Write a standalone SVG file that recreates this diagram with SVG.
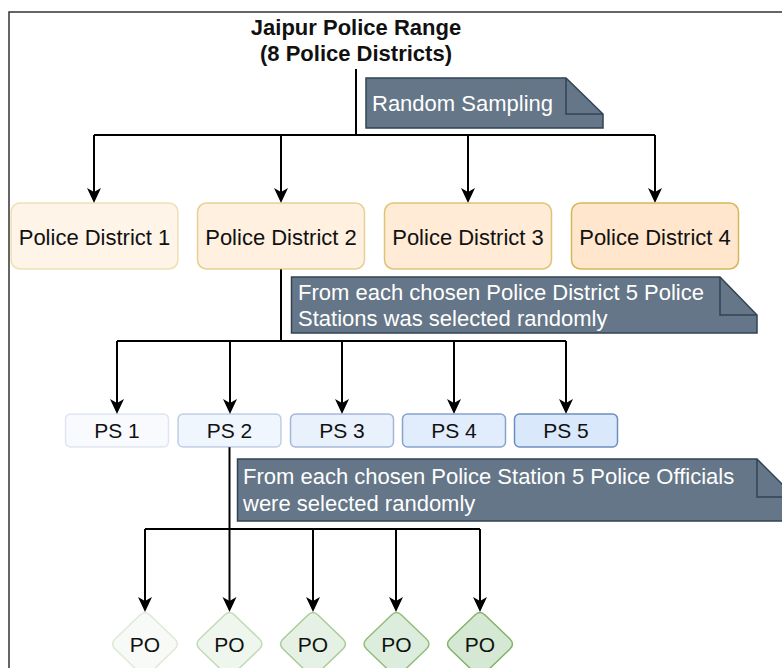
<svg xmlns="http://www.w3.org/2000/svg" width="782" height="668" viewBox="0 0 782 668">
<style>
.t{font-family:"Liberation Sans",Arial,Helvetica,sans-serif;font-size:22px;fill:#111}
.title{font-weight:bold;font-size:22px;text-anchor:middle}
.c{text-anchor:middle}
.nt{font-family:"Liberation Sans",Arial,Helvetica,sans-serif;font-size:22px;fill:#ffffff}
.note{fill:#647687;stroke:#314354;stroke-width:1.5}
.fold{fill:none;stroke:#314354;stroke-width:1.5}
.pd{fill:#ffe6cc;stroke:#d6b656;stroke-width:1.5}
.ps{fill:#dae8fc;stroke:#6c8ebf;stroke-width:1.5}
.po{fill:#d5e8d4;stroke:#82b366;stroke-width:1.5}
.ln{fill:none;stroke:#000;stroke-width:2}
.ar{fill:none;stroke:#000;stroke-width:2;marker-end:url(#arr)}
</style>
<defs>
<marker id="arr" markerUnits="userSpaceOnUse" markerWidth="16" markerHeight="16" viewBox="0 0 16 16" refX="11" refY="7" orient="auto">
<path d="M0,0 L15,7 L0,14 L4,7 Z" fill="#000"/>
</marker>
<path id="dia" d="M-5,-29 Q0,-34 5,-29 L30,-5 Q35,0 30,5 L5,29 Q0,34 -5,29 L-30,5 Q-35,0 -30,-5 Z"/>
</defs>
<rect width="782" height="668" fill="#ffffff"/>
<rect x="9" y="12" width="800" height="700" fill="none" stroke="#333" stroke-width="1.5"/>

<g id="title">
<text class="t title" x="356" y="35">Jaipur Police Range</text>
<text class="t title" x="356" y="61">(8 Police Districts)</text>
</g>

<g id="connectors">
<path class="ln" d="M356,69 V135"/>
<path class="ln" d="M94,135 H655"/>
<path class="ar" d="M94,135 V199"/>
<path class="ar" d="M281,135 V199"/>
<path class="ar" d="M468,135 V199"/>
<path class="ar" d="M655,135 V199"/>
<path class="ln" d="M281,269 V341"/>
<path class="ln" d="M117,341 H566"/>
<path class="ar" d="M117,341 V410"/>
<path class="ar" d="M230,341 V410"/>
<path class="ar" d="M342,341 V410"/>
<path class="ar" d="M454,341 V410"/>
<path class="ar" d="M566,341 V410"/>
<path class="ln" d="M145,529 H480"/>
<path class="ar" d="M229.5,447 V608"/>
<path class="ar" d="M145,529 V608"/>
<path class="ar" d="M313,529 V608"/>
<path class="ar" d="M396,529 V608"/>
<path class="ar" d="M480,529 V608"/>
</g>

<g id="note1">
<path class="note" d="M366,78 H566 L603,114 V128 H366 Z"/>
<path class="fold" d="M566,78 V114 H603"/>
<text class="nt" x="372" y="111">Random Sampling</text>
</g>

<g id="pd1"><rect class="pd" x="11" y="203" width="167" height="66" rx="9" fill-opacity="0.45" stroke-opacity="0.4"/><text class="t c" x="94.5" y="245">Police District 1</text></g>
<g id="pd2"><rect class="pd" x="197.5" y="203" width="167" height="66" rx="9" fill-opacity="0.62" stroke-opacity="0.6"/><text class="t c" x="281" y="245">Police District 2</text></g>
<g id="pd3"><rect class="pd" x="384.5" y="203" width="167" height="66" rx="9" fill-opacity="0.8" stroke-opacity="0.8"/><text class="t c" x="468" y="245">Police District 3</text></g>
<g id="pd4"><rect class="pd" x="571.5" y="203" width="167" height="66" rx="9"/><text class="t c" x="655" y="245">Police District 4</text></g>

<g id="note2">
<path class="note" d="M291.5,277 H720 L757,315 V333 H291.5 Z"/>
<path class="fold" d="M720,277 V315 H757"/>
<text class="nt" x="298" y="300">From each chosen Police District 5 Police</text>
<text class="nt" x="298" y="326">Stations was selected randomly</text>
</g>

<g id="ps1"><rect class="ps" x="65.5" y="414" width="103" height="33" rx="5" fill-opacity="0.2" stroke-opacity="0.2"/><text class="t c" x="117" y="438" style="font-size:21px">PS 1</text></g>
<g id="ps2"><rect class="ps" x="178" y="414" width="103" height="33" rx="5" fill-opacity="0.4" stroke-opacity="0.4"/><text class="t c" x="229.5" y="438" style="font-size:21px">PS 2</text></g>
<g id="ps3"><rect class="ps" x="290.5" y="414" width="103" height="33" rx="5" fill-opacity="0.6" stroke-opacity="0.6"/><text class="t c" x="342" y="438" style="font-size:21px">PS 3</text></g>
<g id="ps4"><rect class="ps" x="402.5" y="414" width="103" height="33" rx="5" fill-opacity="0.8" stroke-opacity="0.8"/><text class="t c" x="454" y="438" style="font-size:21px">PS 4</text></g>
<g id="ps5"><rect class="ps" x="514.5" y="414" width="103" height="33" rx="5"/><text class="t c" x="566" y="438" style="font-size:21px">PS 5</text></g>

<g id="note3">
<path class="note" d="M237.5,459 H757 L795,497 V521 H237.5 Z"/>
<path class="fold" d="M757,459 V497 H795"/>
<text class="nt" x="243" y="484">From each chosen Police Station 5 Police Officials</text>
<text class="nt" x="243" y="511">were selected randomly</text>
</g>

<g id="po1"><use href="#dia" class="po" x="145" y="644" fill-opacity="0.2" stroke-opacity="0.25"/><text class="t c" x="145" y="651.5" style="font-size:21px">PO</text></g>
<g id="po2"><use href="#dia" class="po" x="229.5" y="644" fill-opacity="0.4" stroke-opacity="0.45"/><text class="t c" x="229.5" y="651.5" style="font-size:21px">PO</text></g>
<g id="po3"><use href="#dia" class="po" x="313" y="644" fill-opacity="0.6" stroke-opacity="0.65"/><text class="t c" x="313" y="651.5" style="font-size:21px">PO</text></g>
<g id="po4"><use href="#dia" class="po" x="396.5" y="644" fill-opacity="0.8" stroke-opacity="0.85"/><text class="t c" x="396.5" y="651.5" style="font-size:21px">PO</text></g>
<g id="po5"><use href="#dia" class="po" x="480" y="644"/><text class="t c" x="480" y="651.5" style="font-size:21px">PO</text></g>
</svg>
